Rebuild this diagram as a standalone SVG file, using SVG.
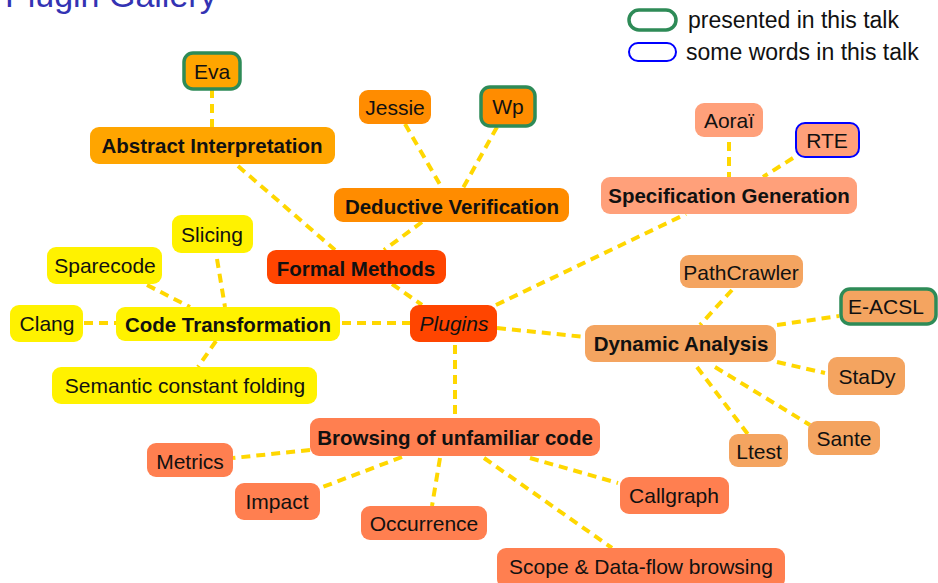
<svg xmlns="http://www.w3.org/2000/svg" width="938" height="583" viewBox="0 0 938 583">
<style>
text{font-family:"Liberation Sans",Arial,sans-serif;font-size:21px;fill:#111;text-anchor:middle;dominant-baseline:central}
.b{font-weight:bold;font-size:20.5px}
.lg{font-size:23px;text-anchor:start}
.e line{stroke:#ffd700;stroke-width:4;stroke-dasharray:9,6}
.pr{stroke:#2e8b57;stroke-width:3.5}
.sw{stroke:#0000ff;stroke-width:2}
.c1{fill:#ffa500}.c2{fill:#ff8c00}.c3{fill:#ff4500}.c4{fill:#ffa07a}.c5{fill:#fff200}.c6{fill:#f4a460}.c7{fill:#ff7f50}
</style>
<rect width="938" height="583" fill="#fff"/>
<text x="5" y="7" style="font-size:34px;fill:#3333b3;text-anchor:start;dominant-baseline:alphabetic">Plugin Gallery</text>
<g id="legend">
<rect x="629" y="10" width="47" height="20" rx="10" fill="none" class="pr"/>
<text x="688" y="20" class="lg">presented in this talk</text>
<rect x="629" y="43" width="47" height="18" rx="9" fill="none" class="sw"/>
<text x="686" y="52" class="lg">some words in this talk</text>
</g>
<g class="e" id="edges">
<line x1="212" y1="89" x2="212" y2="127"/>
<line x1="238" y1="166" x2="335" y2="250"/>
<line x1="405" y1="124" x2="442" y2="188"/>
<line x1="497" y1="127" x2="463" y2="188"/>
<line x1="422" y1="222" x2="384" y2="250"/>
<line x1="392" y1="284" x2="422" y2="305"/>
<line x1="496" y1="305" x2="686" y2="214"/>
<line x1="729" y1="142" x2="729" y2="177"/>
<line x1="793" y1="158" x2="763" y2="177"/>
<line x1="342" y1="323" x2="410" y2="323"/>
<line x1="84" y1="323" x2="116" y2="323"/>
<line x1="147" y1="285" x2="190" y2="307"/>
<line x1="217" y1="259" x2="225" y2="307"/>
<line x1="216" y1="341" x2="198" y2="367"/>
<line x1="497" y1="328" x2="585" y2="337"/>
<line x1="732" y1="290" x2="700" y2="325"/>
<line x1="777" y1="325" x2="839" y2="316"/>
<line x1="777" y1="362" x2="825" y2="373"/>
<line x1="715" y1="367" x2="810" y2="425"/>
<line x1="697" y1="367" x2="750" y2="437"/>
<line x1="455" y1="345" x2="455" y2="418"/>
<line x1="310" y1="450" x2="233" y2="458"/>
<line x1="402" y1="457" x2="320" y2="488"/>
<line x1="440" y1="458" x2="432" y2="506"/>
<line x1="530" y1="458" x2="618" y2="483"/>
<line x1="484" y1="458" x2="612" y2="548"/>
</g>
<g id="eva"><rect x="184" y="53" width="56" height="36" rx="9" class="c1 pr"/><text x="212" y="71">Eva</text></g>
<g id="abstract"><rect x="90" y="127" width="245" height="37" rx="9" class="c1"/><text x="212" y="145" class="b">Abstract Interpretation</text></g>
<g id="jessie"><rect x="359" y="90" width="72" height="34" rx="9" class="c2"/><text x="395" y="107">Jessie</text></g>
<g id="wp"><rect x="481" y="87" width="54" height="39" rx="9" class="c2 pr"/><text x="508" y="106">Wp</text></g>
<g id="deductive"><rect x="334" y="188" width="235" height="34" rx="9" class="c2"/><text x="452" y="206" class="b">Deductive Verification</text></g>
<g id="formal"><rect x="267" y="250" width="179" height="34" rx="9" class="c3"/><text x="356" y="268" class="b">Formal Methods</text></g>
<g id="plugins"><rect x="410" y="305" width="87" height="37" rx="9" class="c3"/><text x="454" y="323" style="font-style:italic">Plugins</text></g>
<g id="specgen"><rect x="601" y="177" width="256" height="37" rx="9" class="c4"/><text x="729" y="195" class="b">Specification Generation</text></g>
<g id="aorai"><rect x="695" y="103" width="68" height="34" rx="9" class="c4"/><text x="729" y="120">Aoraï</text></g>
<g id="rte"><rect x="796" y="123" width="63" height="34" rx="9" class="c4 sw"/><text x="827" y="140">RTE</text></g>
<g id="codetrans"><rect x="116" y="307" width="224" height="34" rx="9" class="c5"/><text x="228" y="324" class="b">Code Transformation</text></g>
<g id="slicing"><rect x="172" y="215" width="81" height="38" rx="9" class="c5"/><text x="212" y="234">Slicing</text></g>
<g id="sparecode"><rect x="47" y="247" width="115" height="37" rx="9" class="c5"/><text x="105" y="265">Sparecode</text></g>
<g id="clang"><rect x="10" y="305" width="73" height="37" rx="9" class="c5"/><text x="47" y="323">Clang</text></g>
<g id="semantic"><rect x="52" y="367" width="265" height="37" rx="9" class="c5"/><text x="185" y="385">Semantic constant folding</text></g>
<g id="dynamic"><rect x="585" y="325" width="191" height="37" rx="9" class="c6"/><text x="681" y="343" class="b">Dynamic Analysis</text></g>
<g id="pathcrawler"><rect x="680" y="255" width="123" height="33" rx="9" class="c6"/><text x="741" y="272">PathCrawler</text></g>
<g id="eacsl"><rect x="841" y="289" width="95" height="35" rx="9" class="c6 pr"/><text x="886" y="306">E-ACSL</text></g>
<g id="stady"><rect x="828" y="357" width="77" height="38" rx="9" class="c6"/><text x="867" y="376">StaDy</text></g>
<g id="sante"><rect x="808" y="421" width="72" height="34" rx="9" class="c6"/><text x="844" y="438">Sante</text></g>
<g id="ltest"><rect x="729" y="434" width="59" height="33" rx="9" class="c6"/><text x="759" y="451">Ltest</text></g>
<g id="browsing"><rect x="310" y="418" width="290" height="38" rx="9" class="c7"/><text x="455" y="437" class="b">Browsing of unfamiliar code</text></g>
<g id="metrics"><rect x="147" y="443" width="86" height="34" rx="9" class="c7"/><text x="190" y="461">Metrics</text></g>
<g id="impact"><rect x="235" y="483" width="85" height="37" rx="9" class="c7"/><text x="277" y="501">Impact</text></g>
<g id="occurrence"><rect x="361" y="506" width="126" height="34" rx="9" class="c7"/><text x="424" y="523">Occurrence</text></g>
<g id="callgraph"><rect x="620" y="477" width="109" height="37" rx="9" class="c7"/><text x="674" y="495">Callgraph</text></g>
<g id="scope"><rect x="497" y="548" width="288" height="40" rx="9" class="c7"/><text x="641" y="566">Scope &amp; Data-flow browsing</text></g>
</svg>
